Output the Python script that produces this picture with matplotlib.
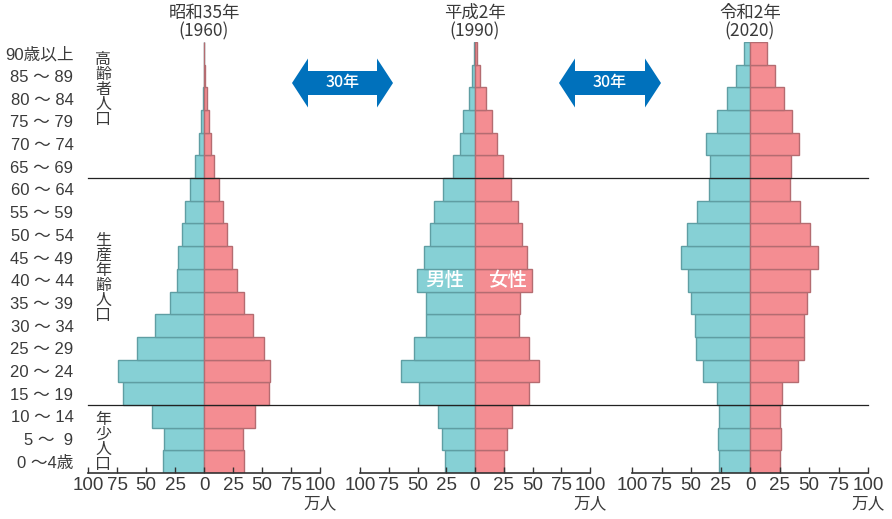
import matplotlib
matplotlib.use("Agg")
import matplotlib.pyplot as plt
import matplotlib.transforms as mtransforms
from matplotlib.lines import Line2D
from matplotlib.patches import Polygon

plt.rcParams['font.family'] = ['Noto Sans CJK JP', 'DejaVu Sans']
LATIN = ['Liberation Sans', 'Noto Sans CJK JP', 'DejaVu Sans']

ages = ["0 ～4歳", "5 ～  9", "10 ～ 14", "15 ～ 19", "20 ～ 24", "25 ～ 29",
        "30 ～ 34", "35 ～ 39", "40 ～ 44", "45 ～ 49", "50 ～ 54", "55 ～ 59",
        "60 ～ 64", "65 ～ 69", "70 ～ 74", "75 ～ 79", "80 ～ 84", "85 ～ 89",
        "90歳以上"]

# 万人, youngest first
male_1960 = [35.3, 34.2, 44.5, 69.5, 73.9, 57.8, 42.0, 29.0, 23.3, 22.1,
             19.0, 16.1, 11.8, 7.8, 4.6, 2.3, 0.9, 0.3, 0.1]
female_1960 = [34.2, 33.3, 43.7, 55.7, 56.6, 52.0, 42.0, 34.2, 28.2, 24.4,
               19.8, 16.4, 12.6, 8.9, 6.3, 4.0, 2.3, 1.1, 0.3]
male_1990 = [26.4, 28.4, 32.5, 48.7, 64.3, 53.3, 42.3, 42.6, 50.7, 44.1,
             39.1, 35.9, 27.8, 18.8, 13.0, 10.1, 5.5, 2.3, 0.9]
female_1990 = [25.5, 27.8, 31.9, 46.7, 55.4, 46.7, 38.3, 39.4, 49.3, 45.5,
               41.2, 37.7, 31.0, 24.6, 18.8, 15.1, 9.3, 4.6, 1.7]
male_2020 = [26.6, 27.1, 26.3, 28.0, 39.8, 45.8, 46.6, 50.0, 52.8, 58.5,
             53.4, 44.9, 35.0, 33.6, 37.3, 27.7, 19.5, 11.9, 5.1]
female_2020 = [25.7, 26.6, 25.4, 27.1, 40.4, 46.0, 46.0, 48.6, 51.1, 57.9,
               51.1, 42.7, 34.2, 34.5, 41.8, 35.6, 29.1, 21.5, 14.7]

titles = ["昭和35年\n(1960)", "平成2年\n(1990)", "令和2年\n(2020)"]
ticks = [-100, -75, -50, -25, 0, 25, 50, 75, 100]

TXT = '#3a3a3a'
M_FILL, M_EDGE = '#86d0d5', '#5f9ea3'
F_FILL, F_EDGE = '#f48d92', '#b46c71'
BLUE = '#0071bc'

W, H = 892, 519
fig = plt.figure(figsize=(8.92, 5.19), dpi=100)

panels = [(88, 232), (360, 230), (632, 236)]
data = [(male_1960, female_1960), (male_1990, female_1990), (male_2020, female_2020)]
bottom_px, top_px = 473, 42

axes = []
for (left, width), (m, f), title in zip(panels, data, titles):
    ax = fig.add_axes([left / W, (H - bottom_px) / H, width / W, (bottom_px - top_px) / H])
    y = range(len(ages))
    ax.barh(y, [-v for v in m], height=1.0, color=M_FILL, edgecolor=M_EDGE, linewidth=1)
    ax.barh(y, f, height=1.0, color=F_FILL, edgecolor=F_EDGE, linewidth=1)
    ax.set_xlim(-100, 100)
    ax.set_ylim(-0.5, len(ages) - 0.5)
    for s in ['top', 'left', 'right']:
        ax.spines[s].set_visible(False)
    ax.spines['bottom'].set_color('#333333')
    ax.spines['bottom'].set_linewidth(1.2)
    ax.set_xticks(ticks)
    ax.set_xticklabels([str(abs(t)) for t in ticks], fontsize=13.5, color=TXT,
                       family=LATIN)
    ax.tick_params(axis='x', direction='in', length=4, width=1, color='#333333', pad=3)
    ax.set_yticks([])
    ax.patch.set_alpha(0)
    ax.text(100, -1.85, "万人", ha='center', va='center', fontsize=12, color=TXT,
            clip_on=False)
    ax.text(0, 19.38, title, ha='center', va='center', fontsize=12.5, color=TXT,
            linespacing=1.0, clip_on=False)
    axes.append(ax)

ax1, ax2, ax3 = axes

# age labels on the first panel
ax1.set_yticks(range(len(ages)))
ax1.set_yticklabels(ages, fontsize=12, color=TXT, family=LATIN)
ax1.tick_params(axis='y', length=0, pad=10.5)

# group labels (vertical)
trans1 = mtransforms.blended_transform_factory(fig.transFigure, ax1.transData)
for label, yc in [("高齢者人口", 16.4), ("生産年齢人口", 8.1), ("年少人口", 0.87)]:
    fig.text(103 / W, yc, "\n".join(label), transform=trans1, ha='center', va='center',
             fontsize=11.5, color=TXT, linespacing=0.85)

# 男性 / 女性 labels in the 1990 panel
ax2.text(-26, 8, "男性", ha='center', va='center', fontsize=14, color='white', fontweight='medium')
ax2.text(28, 8, "女性", ha='center', va='center', fontsize=14, color='white', fontweight='medium')

# separator lines across all panels
for yb in [12.5, 2.5]:
    fig.add_artist(Line2D([88 / W, 868 / W], [yb, yb], transform=trans1,
                          color='#222222', linewidth=0.9))

# double-headed "30年" arrows
over = fig.add_axes([0, 0, 1, 1])
over.set_xlim(0, W)
over.set_ylim(H, 0)
over.axis('off')
over.patch.set_alpha(0)


def darrow(x0, x1, yc, hh=24.5, sh=12, hl=16):
    pts = [(x0, yc), (x0 + hl, yc - hh), (x0 + hl, yc - sh), (x1 - hl, yc - sh),
           (x1 - hl, yc - hh), (x1, yc), (x1 - hl, yc + hh), (x1 - hl, yc + sh),
           (x0 + hl, yc + sh), (x0 + hl, yc + hh)]
    over.add_patch(Polygon(pts, closed=True, facecolor=BLUE, edgecolor='none'))
    over.text((x0 + x1) / 2, yc, "30年", ha='center', va='center', fontsize=11.5,
              color='white', fontweight='medium')


darrow(292, 393, 83)
darrow(559, 661, 83)

fig.savefig("out.png", dpi=100)
